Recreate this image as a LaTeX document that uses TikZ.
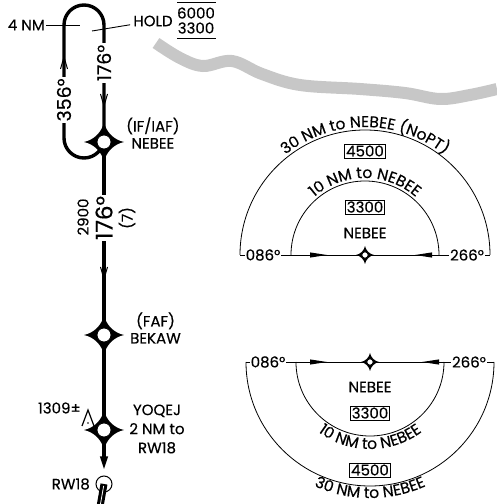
\documentclass[tikz,border=0pt]{standalone}
\usepackage{fontspec}
\setmainfont{Poppins}[FakeBold=0.35]
\usetikzlibrary{decorations.text,arrows.meta}

\newcommand\msafont{\fontsize{15.5}{17}\selectfont}

\tikzset{
  track/.style={line width=3.4pt},
  thinline/.style={line width=0.9pt},
  msa/.style={line width=0.8pt},
  lbl/.style={font=\fontsize{15}{17}\selectfont, inner sep=1pt},
  legcrs/.style={font=\fontsize{19}{19}\selectfont, inner sep=2pt},
  smalllbl/.style={font=\fontsize{15}{15}\selectfont, inner sep=1pt},
  altbox/.style={lbl, draw, line width=0.7pt, inner sep=1.5pt},
  barb/.pic={\draw[line width=1pt] (-3.5,6) -- (0,-6) -- (3.5,6);},
  msaarrow/.pic={\fill (0,0) -- (-17,2.6) -- (-17,-2.6) -- cycle;},
  fixmark/.pic={
    \fill (20,0) .. controls (10,2) and (2,10) .. (0,20) .. controls (-2,10) and (-10,2) .. (-20,0)
      .. controls (-10,-2) and (-2,-10) .. (0,-20) .. controls (2,-10) and (10,-2) .. cycle;
    \filldraw[fill=white, line width=0.8pt] (0,0) circle (7);
  },
}

\begin{document}
\begin{tikzpicture}[x=1pt,y=1pt]
\useasboundingbox (0,0) rectangle (497,504);

% terrain band
\draw[line width=12pt, black!22] plot[smooth, tension=0.6] coordinates {(156,461) (180,446) (203,438) (232,443) (262,430) (300,419) (360,415) (405,411) (440,405) (470,409) (497,415)};

% holding pattern
\coordinate (nebee) at (104,362);
\coordinate (holdtop) at (104,479);
\draw[track] (nebee) -- (holdtop) arc (0:180:20) -- (64,366) arc (180:360:20);
\node[legcrs, fill=white, rotate=90] (outcrs) at (64,404) {356°};
\node[legcrs, fill=white, rotate=90] (incrs) at (104,441) {176°};
\pic[rotate=180] at (64,441) {barb};
\pic at (104,404) {barb};

\node[lbl, anchor=east] (fournm) at (46,479) {4 NM};
\coordinate (nmtick) at (80,479);
\draw[thinline] (fournm) -- (nmtick);

\node[lbl, inner sep=3pt] (hold) at (153,483) {HOLD};
\coordinate (holdpt) at (92,473);
\draw[thinline] (hold) -- (holdpt);
\node[lbl] (maxalt) at (196,491) {6000};
\node[lbl] (minalt) at (196,476) {3300};
\draw[thinline] (177,502) -- (216,502);
\draw[thinline] (177,466) -- (216,466);

% final approach track
\coordinate (bekaw) at (104,169);
\coordinate (yoqej) at (104,74);
\draw[track] (nebee) -- (bekaw) -- (yoqej);
\node[fill=white, rotate=90, font=\fontsize{23}{23}\selectfont, inner sep=1pt] (fincrs) at (104,286) {176°};
\node[smalllbl, rotate=90] (fixalt) at (83,287) {2900};
\node[smalllbl, rotate=90] (dist) at (127,286) {(7)};
\pic at (104,231) {barb};

\node[circle, draw, fill=white, line width=1pt, minimum size=16pt, inner sep=0pt] (rw) at (104,20) {};
\draw[track, shorten >=5pt, -{Triangle[length=14pt,width=7pt]}] (yoqej) -- (rw.north);
\begin{scope}[shift={(104,20)}, rotate=-10]
  \fill (-3.5,0) rectangle (3.5,-26);
  \draw[white, line width=0.8pt] (0,-2) -- (0,-26);
\end{scope}
\node[lbl, anchor=east] (rwlbl) at (91,20) {RW18};

\pic at (nebee) {fixmark};
\pic at (bekaw) {fixmark};
\pic at (yoqej) {fixmark};

\node[lbl, align=center, anchor=west] (nebeelbl) at (125,371) {(IF/IAF)\\NEBEE};
\node[lbl, align=center, anchor=west] (bekawlbl) at (129,176) {(FAF)\\BEKAW};
\node[lbl, align=center, font=\fontsize{15}{19}\selectfont] (yoqejlbl) at (157,75) {YOQEJ\\2 NM to\\RW18};

% obstacle
\draw[line width=1.2pt] (82,78) -- (88,94) -- (94,78);
\fill (88,81) circle (0.9);
\node[lbl, anchor=east] (elev) at (82,96) {1309±};

% MSA, upper
\coordinate (msaup) at (365,249);
\draw[msa] (240,249) -- (490,249);
\draw[msa] (240,249) arc (180:0:125);
\draw[msa] (291,249) arc (180:0:74);
\node[lbl, fill=white] (brgupl) at (263,249) {086°};
\node[lbl, fill=white] (brgupr) at (467,249) {266°};
\pic at (327,249) {msaarrow};
\pic[rotate=180] at (415,249) {msaarrow};
\pic[scale=0.45] at (msaup) {fixmark};
\node[lbl] (msauplbl) at (365,271) {NEBEE};
\node[altbox] (upinner) at (365,297) {3300};
\node[altbox] (upouter) at (365,353) {4500};
\path[decorate, decoration={text along path, text={|\msafont|10 NM to NEBEE}, text align=center}]
  ([shift={(145:77)}]msaup) arc (145:35:77);
\path[decorate, decoration={text along path, text={|\msafont|30 NM to NEBEE (NoPT)}, text align=center}]
  ([shift={(140:128)}]msaup) arc (140:40:128);

% MSA, lower
\coordinate (msalo) at (370,142);
\draw[msa] (246,142) -- (494,142);
\draw[msa] (246,142) arc (180:360:124);
\draw[msa] (296,142) arc (180:360:74);
\node[lbl, fill=white] (brglol) at (268,142) {086°};
\node[lbl, fill=white] (brglor) at (469,142) {266°};
\pic at (327,142) {msaarrow};
\pic[rotate=180] at (422,142) {msaarrow};
\pic[scale=0.45] at (msalo) {fixmark};
\node[lbl] (msalolbl) at (370,117) {NEBEE};
\node[altbox] (loinner) at (370,91) {3300};
\node[altbox] (loouter) at (370,34) {4500};
\path[decorate, decoration={text along path, text={|\msafont|10 NM to NEBEE}, text align=center}]
  ([shift={(215:87)}]msalo) arc (215:325:87);
\path[decorate, decoration={text along path, text={|\msafont|30 NM to NEBEE}, text align=center}]
  ([shift={(225:136)}]msalo) arc (225:315:136);
\end{tikzpicture}
\end{document}
